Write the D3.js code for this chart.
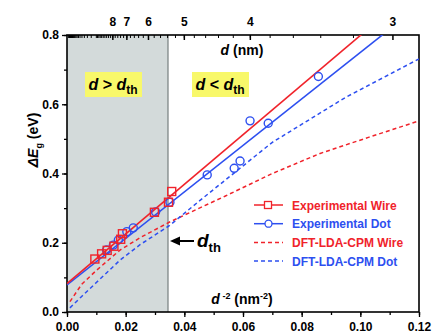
<!DOCTYPE html>
<html>
<head>
<meta charset="utf-8">
<script src="https://cdn.jsdelivr.net/npm/d3@7"></script>
<style>
  body { margin: 0; background: #fff; }
  text { font-family: "Liberation Sans", Arial, sans-serif; font-weight: bold; }
</style>
</head>
<body>
<svg id="chart" width="435" height="333"></svg>
<script>
// experimental points, x = d^-2 (nm^-2), y = dEg (eV)
const wireX = [0.0095, 0.0118, 0.0137, 0.016, 0.0183, 0.0189, 0.0298, 0.0346, 0.0357];
const wireY = [0.153, 0.168, 0.178, 0.19, 0.21, 0.226, 0.288, 0.317, 0.348];
const dotX = [0.0135, 0.0158, 0.0175, 0.0204, 0.0226, 0.0302, 0.0351, 0.0478, 0.057, 0.059, 0.0624, 0.0686, 0.0857];
const dotY = [0.179, 0.193, 0.208, 0.232, 0.243, 0.289, 0.317, 0.396, 0.415, 0.436, 0.552, 0.545, 0.68];

// linear fits (end points)
const wireFitX = [0, 0.12];
const wireFitY = [0.082, 0.942];
const dotFitX = [0, 0.12];
const dotFitY = [0.078, 0.884];

// DFT-LDA-CPM curves
const dftWireX = [0.001, 0.005, 0.01, 0.0181, 0.025, 0.035, 0.054, 0.07, 0.0863, 0.103, 0.12];
const dftWireY = [0.03, 0.08, 0.12, 0.179, 0.215, 0.26, 0.335, 0.4, 0.458, 0.505, 0.552];
const dftDotX = [0.001, 0.005, 0.01, 0.0181, 0.025, 0.035, 0.045, 0.07, 0.095, 0.12];
const dftDotY = [0.012, 0.045, 0.085, 0.15, 0.195, 0.25, 0.32, 0.49, 0.62, 0.731];

const dThreshold = 5.39; // nm
const xTicks = [0, 0.02, 0.04, 0.06, 0.08, 0.10, 0.12];
const yTicks = [0, 0.2, 0.4, 0.6, 0.8];
const dMajor = [3, 4, 5, 6, 7, 8];

const red = "#f0232b", blue = "#2d4ff0";

const svg = d3.select("#chart");
const margin = {top: 35, right: 16, bottom: 21, left: 67};
const W = 435, H = 333;
const x = d3.scaleLinear().domain([0, 0.12]).range([margin.left, W - margin.right]);
const y = d3.scaleLinear().domain([0, 0.8]).range([H - margin.bottom, margin.top]);

svg.append("clipPath").attr("id", "clip")
  .append("rect")
  .attr("x", x(0)).attr("y", y(0.8))
  .attr("width", x(0.12) - x(0)).attr("height", y(0) - y(0.8));

// shaded region d > dth
const xth = 1 / (dThreshold * dThreshold);
svg.append("rect")
  .attr("x", x(0)).attr("y", y(0.8))
  .attr("width", x(xth) - x(0)).attr("height", y(0) - y(0.8))
  .attr("fill", "#d3dada");
svg.append("line")
  .attr("x1", x(xth)).attr("x2", x(xth))
  .attr("y1", y(0)).attr("y2", y(0.8))
  .attr("stroke", "#8c9494").attr("stroke-width", 1.5);

// axes
const fmt2 = d3.format(".2f"), fmt1 = d3.format(".1f");
const bottomAxis = svg.append("g").attr("transform", `translate(0,${y(0)})`);
bottomAxis.call(d3.axisBottom(x).tickValues(d3.range(0, 0.1201, 0.01)).tickSize(3).tickFormat(""));
bottomAxis.append("g").call(d3.axisBottom(x).tickValues(xTicks).tickSize(5).tickFormat(fmt2));
const leftAxis = svg.append("g").attr("transform", `translate(${x(0)},0)`);
leftAxis.call(d3.axisLeft(y).tickValues(d3.range(0, 0.801, 0.1)).tickSize(3).tickFormat(""));
leftAxis.append("g").call(d3.axisLeft(y).tickValues(yTicks).tickSize(5).tickFormat(fmt1));

// top axis in d (nm)
const dMinor = d3.range(3.2, 10, 0.2).concat(d3.range(10, 40, 1));
const topAxis = svg.append("g").attr("transform", `translate(0,${y(0.8)})`);
topAxis.selectAll("line.minor").data(dMinor).join("line")
  .attr("x1", d => x(1 / (d * d))).attr("x2", d => x(1 / (d * d)))
  .attr("y1", 0).attr("y2", 3)
  .attr("stroke", "#000").attr("stroke-width", 1);
topAxis.selectAll("line.major").data(dMajor).join("line")
  .attr("x1", d => x(1 / (d * d))).attr("x2", d => x(1 / (d * d)))
  .attr("y1", 0).attr("y2", 5)
  .attr("stroke", "#000").attr("stroke-width", 1.5);
topAxis.selectAll("text").data(dMajor).join("text")
  .attr("x", d => x(1 / (d * d))).attr("y", -9)
  .attr("text-anchor", "middle").attr("font-size", 12)
  .text(d => d);

svg.selectAll(".tick text").attr("font-size", 12).attr("font-family", "Liberation Sans, Arial, sans-serif")
  .attr("font-weight", "bold").attr("fill", "#000");
svg.selectAll(".tick line").attr("stroke-width", 1.3);
bottomAxis.selectAll(".tick text").attr("dy", "0.9em");
svg.selectAll(".domain").remove();

// frame
svg.append("rect")
  .attr("x", x(0)).attr("y", y(0.8))
  .attr("width", x(0.12) - x(0)).attr("height", y(0) - y(0.8))
  .attr("fill", "none").attr("stroke", "#000").attr("stroke-width", 1.6);

const plot = svg.append("g").attr("clip-path", "url(#clip)");
const line = d3.line().x(d => x(d[0])).y(d => y(d[1]));

plot.append("path").datum(d3.zip(dftWireX, dftWireY)).attr("d", line)
  .attr("fill", "none").attr("stroke", red).attr("stroke-width", 1.5).attr("stroke-dasharray", "4,3");
plot.append("path").datum(d3.zip(dftDotX, dftDotY)).attr("d", line)
  .attr("fill", "none").attr("stroke", blue).attr("stroke-width", 1.5).attr("stroke-dasharray", "4,3");
plot.append("path").datum(d3.zip(dotFitX, dotFitY)).attr("d", line)
  .attr("fill", "none").attr("stroke", blue).attr("stroke-width", 1.6);
plot.append("path").datum(d3.zip(wireFitX, wireFitY)).attr("d", line)
  .attr("fill", "none").attr("stroke", red).attr("stroke-width", 1.6);

plot.selectAll("circle.dot").data(d3.zip(dotX, dotY)).join("circle")
  .attr("cx", d => x(d[0])).attr("cy", d => y(d[1])).attr("r", 4)
  .attr("fill", "none").attr("stroke", blue).attr("stroke-width", 1.4);
plot.selectAll("rect.wire").data(d3.zip(wireX, wireY)).join("rect")
  .attr("x", d => x(d[0]) - 4).attr("y", d => y(d[1]) - 4)
  .attr("width", 8).attr("height", 8)
  .attr("fill", "none").attr("stroke", red).attr("stroke-width", 1.4);

// axis titles
svg.append("text").attr("x", 242).attr("y", 55).attr("text-anchor", "middle").attr("font-size", 14)
  .html('<tspan font-style="italic">d</tspan> (nm)');
const xt = svg.append("text").attr("x", 242).attr("y", 304).attr("text-anchor", "middle").attr("font-size", 14);
xt.append("tspan").attr("font-style", "italic").text("d");
xt.append("tspan").attr("dy", -5).attr("font-size", 9).text(" -2");
xt.append("tspan").attr("dy", 5).text(" (nm");
xt.append("tspan").attr("dy", -5).attr("font-size", 9).text("-2");
xt.append("tspan").attr("dy", 5).text(")");

const yt = svg.append("text").attr("transform", "translate(38,140) rotate(-90)")
  .attr("text-anchor", "middle").attr("font-size", 14);
yt.append("tspan").attr("font-style", "italic").text("ΔE");
yt.append("tspan").attr("dy", 4).attr("font-size", 9).text("g");
yt.append("tspan").attr("dy", -4).text(" (eV)");

// region labels
function regionLabel(cx, sign) {
  svg.append("rect").attr("x", cx - 28).attr("y", 72).attr("width", 57).attr("height", 25).attr("fill", "#f8f86a");
  const t = svg.append("text").attr("x", cx).attr("y", 90).attr("text-anchor", "middle").attr("font-size", 16);
  t.append("tspan").attr("font-style", "italic").text("d");
  t.append("tspan").text(" " + sign + " ");
  t.append("tspan").attr("font-style", "italic").text("d");
  t.append("tspan").attr("dy", 4).attr("font-size", 12).text("th");
}
regionLabel(113, ">");
regionLabel(220, "<");

// d_th arrow
svg.append("line").attr("x1", 194).attr("x2", 176).attr("y1", 241).attr("y2", 241)
  .attr("stroke", "#000").attr("stroke-width", 2);
svg.append("path").attr("d", "M170,241 L180,236.5 L180,245.5 Z").attr("fill", "#000");
const dl = svg.append("text").attr("x", 197).attr("y", 247).attr("font-size", 19);
dl.append("tspan").attr("font-style", "italic").text("d");
dl.append("tspan").attr("dy", 5).attr("font-size", 13).text("th");

// legend
const legend = [
  {label: "Experimental Wire", color: red, dash: null, mark: "square"},
  {label: "Experimental Dot", color: blue, dash: null, mark: "circle"},
  {label: "DFT-LDA-CPM Wire", color: red, dash: "4,3", mark: null},
  {label: "DFT-LDA-CPM Dot", color: blue, dash: "4,3", mark: null}
];
const lg = svg.append("g").selectAll("g").data(legend).join("g")
  .attr("transform", (d, i) => `translate(254,${205 + i * 18.7})`);
lg.append("line").attr("x1", 0).attr("x2", 29).attr("stroke", d => d.color)
  .attr("stroke-width", 1.5).attr("stroke-dasharray", d => d.dash);
lg.filter(d => d.mark === "square").append("rect").attr("x", 10.5).attr("y", -3.5).attr("width", 7).attr("height", 7)
  .attr("fill", "#fff").attr("stroke", d => d.color).attr("stroke-width", 1.3);
lg.filter(d => d.mark === "circle").append("circle").attr("cx", 14.5).attr("r", 3.5)
  .attr("fill", "#fff").attr("stroke", d => d.color).attr("stroke-width", 1.3);
lg.append("text").attr("x", 38).attr("y", 4.5).attr("font-size", 12).attr("fill", d => d.color).text(d => d.label);
</script>
</body>
</html>
